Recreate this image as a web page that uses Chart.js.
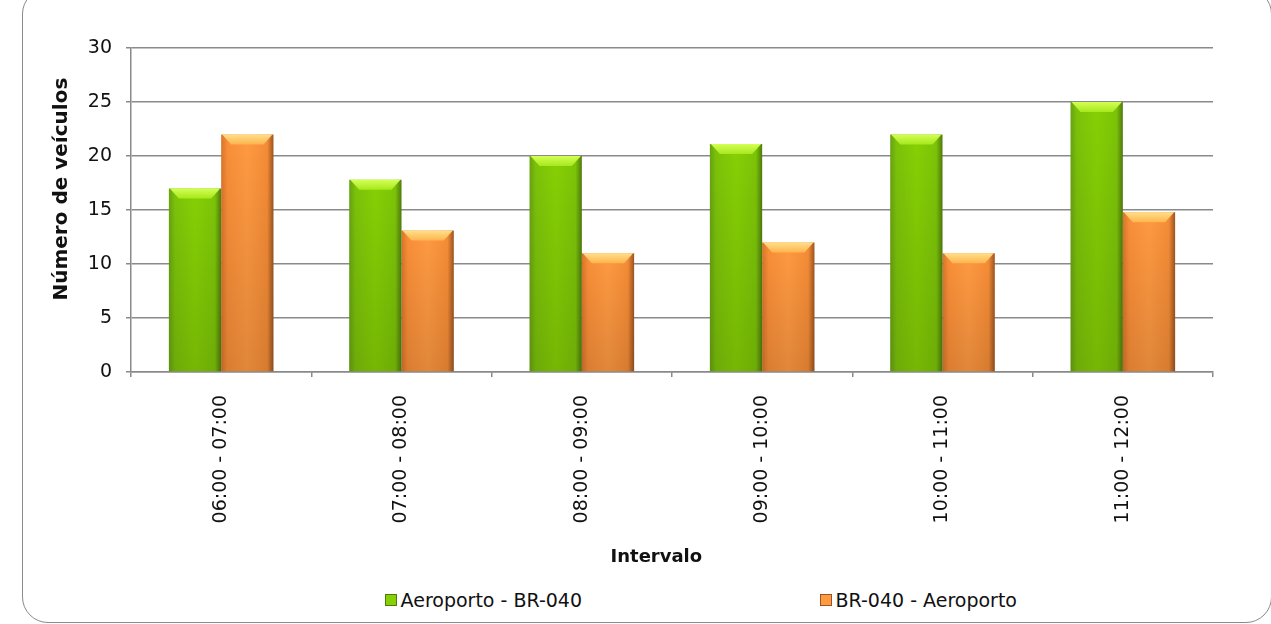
<!DOCTYPE html>
<html>
<head>
<meta charset="utf-8">
<script src="https://cdn.jsdelivr.net/npm/chart.js@4.4.1/dist/chart.umd.min.js"></script>
<style>
  html, body { margin: 0; padding: 0; background: #fff; overflow: hidden; }
  body { width: 1271px; height: 624px; position: relative; font-family: "DejaVu Sans", sans-serif; }
  #frame { position: absolute; left: 22px; top: -12px; width: 1250px; height: 635px; border: 1.5px solid #8a8a8a; border-radius: 26px; box-sizing: border-box; }
  #chart_wrap { position: absolute; left: 0; top: 0; width: 1271px; height: 585px; }
  .legend_item { position: absolute; top: 589px; font-size: 19px; color: #111; display: flex; align-items: center; white-space: nowrap; }
  .legend_box { width: 10px; height: 10px; margin-right: 4px; }
</style>
</head>
<body>
<div id="frame"></div>
<div id="chart_wrap"><canvas id="chart_canvas" width="1271" height="585"></canvas></div>
<div id="legend"></div>
<script>
const CATEGORIES = ['06:00 - 07:00', '07:00 - 08:00', '08:00 - 09:00', '09:00 - 10:00', '10:00 - 11:00', '11:00 - 12:00']
const AEROPORTO_BR040 = [17, 17.8, 20, 21.1, 22, 25]
const BR040_AEROPORTO = [22, 13.1, 11, 12, 11, 14.8]
const SERIES_NAMES = ['Aeroporto - BR-040', 'BR-040 - Aeroporto']
const Y_TICKS = [0, 5, 10, 15, 20, 25, 30]

const CAT_PCT = 0.58

// colour stops for the shaded bars: [left edge ... right edge]
const GREEN_STOPS = ['#68a212', '#7cc20a', '#86d004', '#7cc408', '#4f7a0c']
const ORANGE_STOPS = ['#d9742a', '#f98e38', '#ff9a42', '#f58c36', '#9c5420']
const GREEN_TOP = ['#d4ff55', '#a6e81c']
const ORANGE_TOP = ['#ffe08a', '#ffb44e']

function barFill(stops, side) {
  return function(ctx) {
    let chart = ctx.chart
    let xs = chart.scales.x
    if (!xs || !chart.chartArea) return stops[2]
    let catW = xs.width / CATEGORIES.length
    let barW = catW * CAT_PCT / 2
    let center = xs.getPixelForValue(ctx.dataIndex)
    let left = side == 0 ? center - barW : center
    let g = chart.ctx.createLinearGradient(left, 0, left + barW, 0)
    g.addColorStop(0, stops[0])
    g.addColorStop(0.12, stops[1])
    g.addColorStop(0.5, stops[2])
    g.addColorStop(0.88, stops[3])
    g.addColorStop(1, stops[4])
    return g
  }
}

// bevel highlight on top of each bar, using the bar elements' own geometry
const bevelPlugin = {
  id: 'bevel',
  afterDatasetsDraw(chart) {
    let c = chart.ctx
    chart.data.datasets.forEach((ds, di) => {
      let top = di == 0 ? GREEN_TOP : ORANGE_TOP
      chart.getDatasetMeta(di).data.forEach(bar => {
        let p = bar.getProps(['x', 'y', 'base', 'width'], true)
        let l = p.x - p.width / 2, r = p.x + p.width / 2
        c.save()
        // darken a little toward the bottom
        let vg = c.createLinearGradient(0, p.y, 0, p.base)
        vg.addColorStop(0, 'rgba(0,0,0,0)')
        vg.addColorStop(1, 'rgba(0,0,0,0.12)')
        c.fillStyle = vg
        c.fillRect(l, p.y, p.width, p.base - p.y)
        // top bevel
        let tg = c.createLinearGradient(0, p.y, 0, p.y + 10)
        tg.addColorStop(0, top[0])
        tg.addColorStop(1, top[1])
        c.fillStyle = tg
        c.beginPath()
        c.moveTo(l + 1, p.y)
        c.lineTo(r - 1, p.y)
        c.lineTo(r - 10, p.y + 10)
        c.lineTo(l + 10, p.y + 10)
        c.closePath()
        c.fill()
        c.restore()
      })
    })
  }
}

let ctx = document.getElementById('chart_canvas').getContext('2d')
let chart = new Chart(ctx, {
  type: 'bar',
  data: {
    labels: CATEGORIES,
    datasets: [{
      label: SERIES_NAMES[0],
      data: AEROPORTO_BR040,
      backgroundColor: barFill(GREEN_STOPS, 0),
      borderWidth: 0,
      barPercentage: 1,
      categoryPercentage: CAT_PCT
    }, {
      label: SERIES_NAMES[1],
      data: BR040_AEROPORTO,
      backgroundColor: barFill(ORANGE_STOPS, 1),
      borderWidth: 0,
      barPercentage: 1,
      categoryPercentage: CAT_PCT
    }]
  },
  options: {
    responsive: false,
    animation: false,
    layout: { padding: { top: 48, right: 58, left: 0, bottom: 0 } },
    plugins: {
      legend: { display: false },
      tooltip: { enabled: false }
    },
    scales: {
      x: {
        afterFit: s => { s.height = 213 },
        grid: { drawOnChartArea: false, drawTicks: true, tickLength: 5, color: '#8a8a8a', lineWidth: 1.5, offset: true },
        border: { color: '#8a8a8a', width: 1.5 },
        ticks: { minRotation: 90, maxRotation: 90, padding: 18, color: '#111', font: { family: 'DejaVu Sans', size: 19 } },
        // trailing spaces nudge the title left, like the original
        title: { display: true, text: 'Intervalo     ', color: '#111', font: { family: 'DejaVu Sans', size: 18, weight: 'bold' }, padding: { top: 0, bottom: 17 } }
      },
      y: {
        min: 0,
        max: 30,
        afterFit: s => { s.width = 131 },
        afterBuildTicks: s => { s.ticks = Y_TICKS.map(v => ({ value: v })) },
        grid: { color: '#8a8a8a', lineWidth: 1.5, tickLength: 5 },
        border: { color: '#8a8a8a', width: 1.5 },
        ticks: { padding: 14, color: '#111', font: { family: 'DejaVu Sans', size: 19 } },
        title: { display: true, text: '      Número de veículos', color: '#111', font: { family: 'DejaVu Sans', size: 20, weight: 'bold' }, padding: { top: 50, bottom: 0 } }
      }
    }
  },
  plugins: [bevelPlugin]
})

// legend drawn as html under the chart, placed by the right end of each text
let legend = document.getElementById('legend')
let legendRight = [582, 1017]
let legendColors = [GREEN_STOPS[2], ORANGE_STOPS[2]]
SERIES_NAMES.forEach((name, i) => {
  legend.insertAdjacentHTML('beforeend', `
    <div class="legend_item" style="right:${1271 - legendRight[i]}px">
      <div class="legend_box" style="background:${legendColors[i]};border:1px solid ${i == 0 ? GREEN_STOPS[4] : ORANGE_STOPS[4]}"></div>
      <span>${name}</span>
    </div>`)
})
</script>
</body>
</html>
